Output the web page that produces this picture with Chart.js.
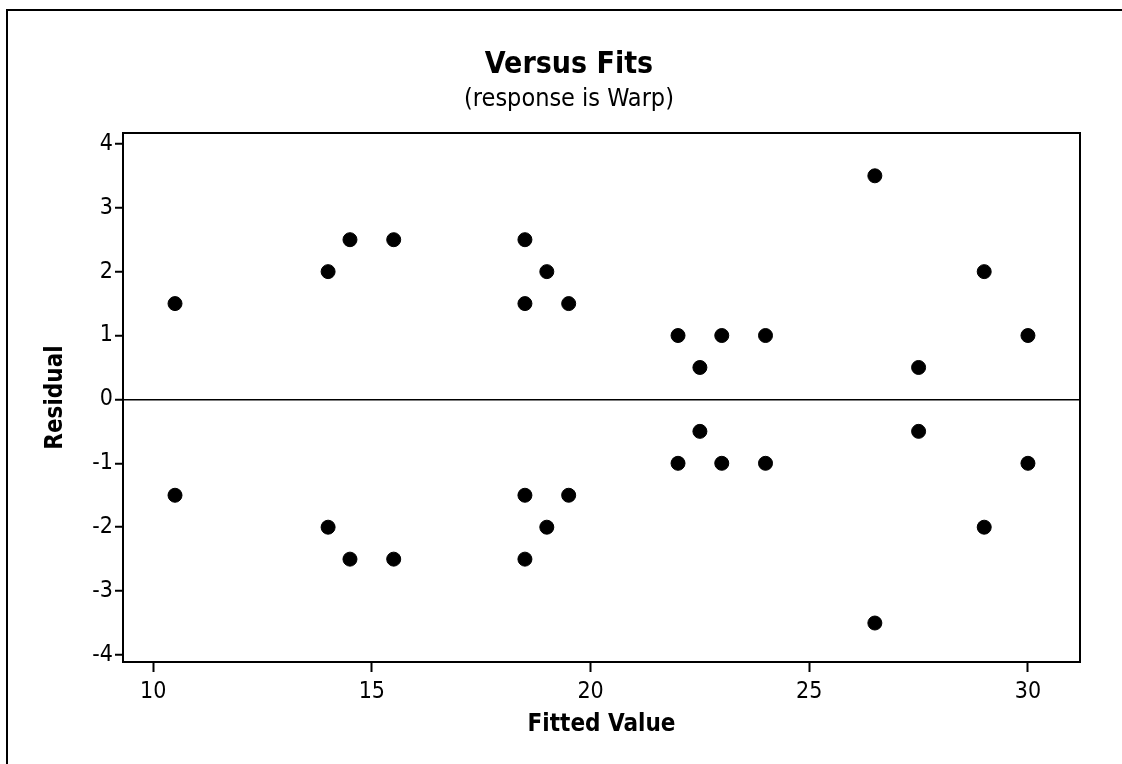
<!DOCTYPE html>
<html>
<head>
<meta charset="utf-8">
<script src="https://cdn.jsdelivr.net/npm/chart.js@4/dist/chart.umd.min.js"></script>
<style>
  html, body { margin: 0; padding: 0; background: #fff; }
  #wrap { width: 1122px; height: 764px; position: relative; }
</style>
</head>
<body>
<div id="wrap"><canvas id="c" width="1122" height="764"></canvas></div>
<script>
// ---- data (Warp: cell means of a two-factor experiment) ----
const fittedValues = [10.5, 10.5, 14, 14, 14.5, 14.5, 15.5, 15.5,
                      18.5, 18.5, 18.5, 18.5, 19, 19, 19.5, 19.5,
                      22, 22, 22.5, 22.5, 23, 23, 24, 24,
                      26.5, 26.5, 27.5, 27.5, 29, 29, 30, 30];
const residuals    = [1.5, -1.5, 2, -2, 2.5, -2.5, 2.5, -2.5,
                      2.5, -2.5, 1.5, -1.5, 2, -2, 1.5, -1.5,
                      1, -1, 0.5, -0.5, 1, -1, 1, -1,
                      3.5, -3.5, 0.5, -0.5, 2, -2, 1, -1];
const xTickValues = [10, 15, 20, 25, 30];
const yTickValues = [-4, -3, -2, -1, 0, 1, 2, 3, 4];
const titleText = 'Versus Fits';
const subtitleText = '(response is Warp)';
const xAxisTitle = 'Fitted Value';
const yAxisTitle = 'Residual';

const FONT = "'DejaVu Sans Condensed', 'DejaVu Sans', sans-serif";

const points = fittedValues.map((x, i) => ({ x: x, y: residuals[i] }));

const decorPlugin = {
  id: 'decor',
  afterDraw(chart) {
    const ctx = chart.ctx;
    const a = chart.chartArea;
    ctx.save();
    // plot frame
    ctx.strokeStyle = '#000';
    ctx.lineWidth = 2;
    ctx.strokeRect(a.left, a.top, a.right - a.left, a.bottom - a.top);
    // outer page frame (top + left)
    ctx.beginPath();
    ctx.moveTo(7, 764);
    ctx.lineTo(7, 10);
    ctx.lineTo(1122, 10);
    ctx.stroke();
    // titles
    ctx.fillStyle = '#000';
    ctx.textAlign = 'center';
    ctx.textBaseline = 'alphabetic';
    ctx.font = 'bold 30px ' + FONT;
    ctx.fillText(titleText, 569, 73);
    ctx.font = '25px ' + FONT;
    ctx.fillText(subtitleText, 569, 106);
    ctx.restore();
  }
};

new Chart(document.getElementById('c'), {
  type: 'scatter',
  data: {
    datasets: [{
      data: points,
      backgroundColor: '#000',
      borderColor: '#000',
      borderWidth: 1,
      pointRadius: 7,
      pointHoverRadius: 7
    }]
  },
  options: {
    responsive: false,
    animation: false,
    layout: { padding: { top: 133, right: 42, bottom: 0, left: 0 } },
    plugins: {
      legend: { display: false },
      tooltip: { enabled: false },
      title: { display: false }
    },
    scales: {
      x: {
        type: 'linear',
        min: 9.311,
        max: 31.19,
        afterFit(scale) { scale.height = 102; },
        afterBuildTicks(scale) { scale.ticks = xTickValues.map(v => ({ value: v })); },
        ticks: {
          color: '#000',
          font: { family: FONT, size: 23 },
          padding: 6,
          maxRotation: 0,
          autoSkip: false
        },
        grid: {
          drawOnChartArea: false,
          tickLength: 10,
          tickColor: '#000',
          tickWidth: 2
        },
        border: { display: true, color: '#000', width: 2 },
        title: {
          display: true,
          text: xAxisTitle,
          color: '#000',
          font: { family: FONT, size: 24, weight: 'bold' },
          padding: { top: 0, bottom: 25 }
        }
      },
      y: {
        type: 'linear',
        min: -4.11,
        max: 4.17,
        afterFit(scale) { scale.width = 123; },
        afterBuildTicks(scale) { scale.ticks = yTickValues.map(v => ({ value: v })); },
        ticks: {
          color: '#000',
          font: { family: FONT, size: 23 },
          padding: 2,
          autoSkip: false
        },
        grid: {
          drawOnChartArea: true,
          color: (c) => (c.tick && c.tick.value === 0) ? '#000' : 'rgba(0,0,0,0)',
          lineWidth: 1.5,
          tickLength: 8,
          tickColor: '#000',
          tickWidth: 2
        },
        border: { display: true, color: '#000', width: 2 },
        title: {
          display: true,
          text: yAxisTitle,
          color: '#000',
          font: { family: FONT, size: 24, weight: 'bold' },
          padding: { top: 41, bottom: 0 }
        }
      }
    }
  },
  plugins: [decorPlugin]
});
</script>
</body>
</html>
